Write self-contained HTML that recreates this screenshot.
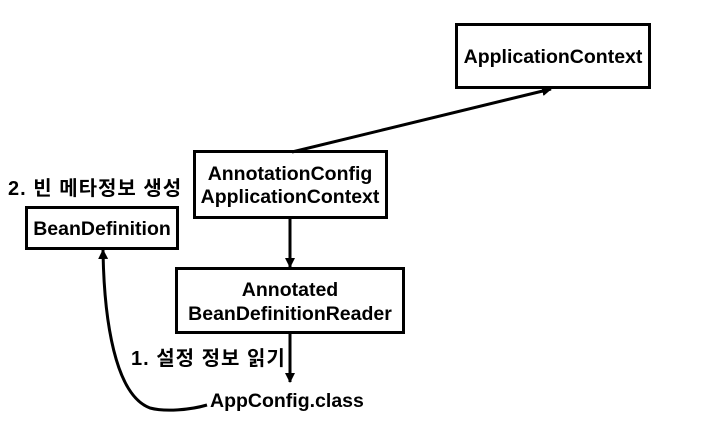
<!DOCTYPE html>
<html><head><meta charset="utf-8"><style>
body{margin:0;background:#fff;width:714px;height:430px;overflow:hidden}
svg text{font-family:"Liberation Sans","Noto Sans CJK KR",sans-serif;font-weight:bold;font-size:19.5px;fill:#000}
svg text.k{font-size:20px;letter-spacing:1px}
</style></head><body>
<svg width="714" height="430" viewBox="0 0 714 430">
<defs><marker id="a" markerWidth="10" markerHeight="10" refX="9" refY="5" orient="auto" markerUnits="userSpaceOnUse"><path d="M0,0 L10,5 L0,10 Z" fill="#000"/></marker></defs>
<g fill="none" stroke="#000" stroke-width="3">
<rect x="456.5" y="24.5" width="193" height="63"/>
<rect x="194.5" y="151.5" width="192" height="66"/>
<rect x="26.5" y="207.5" width="151" height="41"/>
<rect x="176.5" y="268.5" width="227" height="64"/>
<line x1="292" y1="152" x2="551" y2="89" marker-end="url(#a)"/>
<line x1="290" y1="218" x2="290" y2="267" marker-end="url(#a)"/>
<line x1="290" y1="333" x2="290" y2="382" marker-end="url(#a)"/>
<path d="M207,405 C190,410 165,412 150,408 C115,395 104,320 103,250" marker-end="url(#a)"/>
</g>
<text x="553" y="63" text-anchor="middle">ApplicationContext</text>
<text x="290" y="180" text-anchor="middle">AnnotationConfig</text>
<text x="290" y="203" text-anchor="middle">ApplicationContext</text>
<text x="102" y="235" text-anchor="middle">BeanDefinition</text>
<text x="290" y="296" text-anchor="middle">Annotated</text>
<text x="290" y="320" text-anchor="middle">BeanDefinitionReader</text>
<text class="k" x="8" y="195">2. 빈 메타정보 생성</text>
<text class="k" x="131" y="365">1. 설정 정보 읽기</text>
<text x="210" y="407">AppConfig.class</text>
</svg>
</body></html>
